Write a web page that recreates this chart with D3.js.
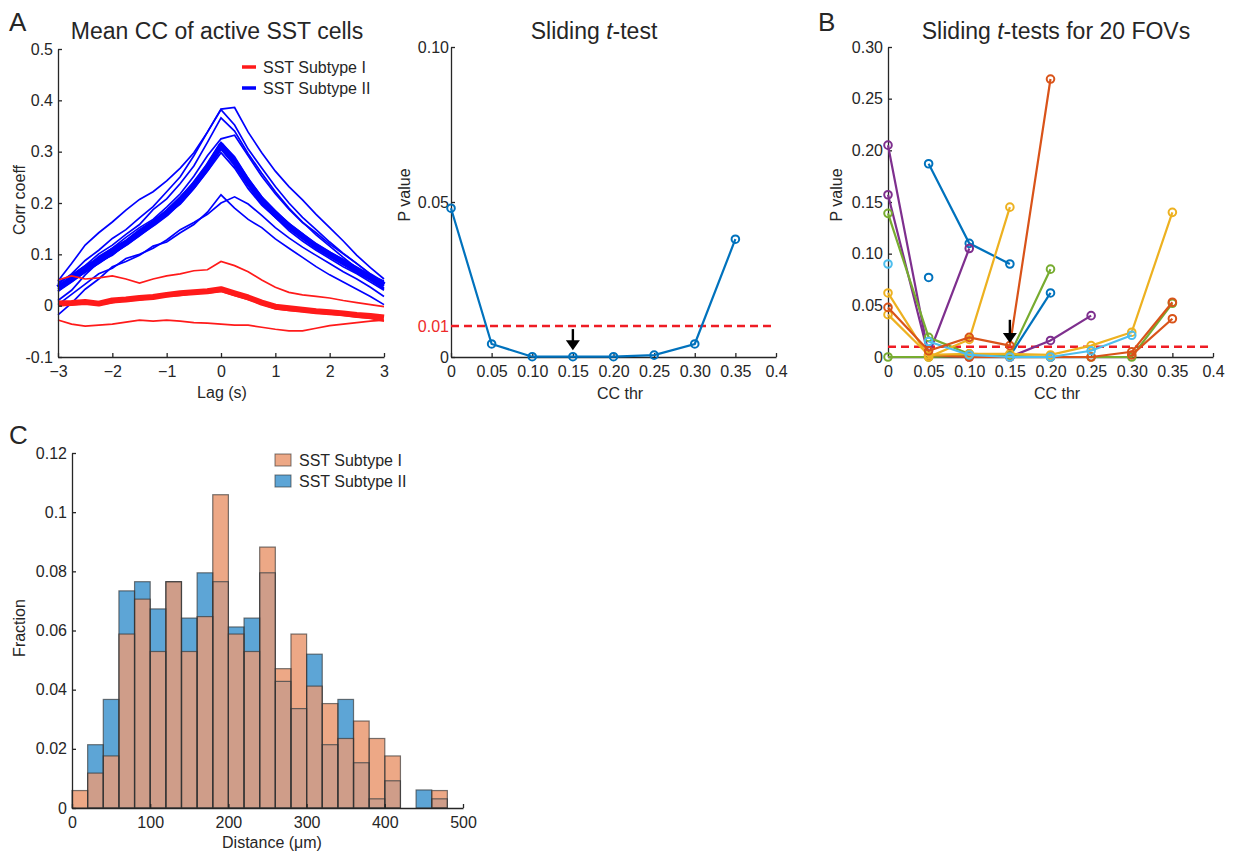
<!DOCTYPE html>
<html><head><meta charset="utf-8">
<script src="https://cdn.jsdelivr.net/npm/d3@7"></script>
<style>body{margin:0;background:#fff;} svg{display:block;}</style>
</head><body><svg id="c" width="1235" height="853"></svg>
<script>
// ---------------- DATA ----------------
// Panel A (left): cross-correlation vs lag
const lags = [-3,-2.75,-2.5,-2.25,-2,-1.75,-1.5,-1.25,-1,-0.75,-0.5,-0.25,0,0.25,0.5,0.75,1,1.25,1.5,1.75,2,2.25,2.5,2.75,3];
const subtype2Lines = [
  [0.048,0.082,0.118,0.142,0.163,0.186,0.207,0.222,0.243,0.268,0.298,0.338,0.383,0.386,0.338,0.298,0.262,0.232,0.206,0.178,0.152,0.126,0.098,0.074,0.052],
  [0.042,0.062,0.088,0.108,0.131,0.148,0.171,0.193,0.222,0.251,0.292,0.338,0.382,0.352,0.305,0.268,0.232,0.200,0.172,0.148,0.124,0.102,0.082,0.061,0.038],
  [0.032,0.058,0.078,0.101,0.118,0.139,0.158,0.187,0.208,0.238,0.272,0.318,0.366,0.340,0.296,0.258,0.222,0.190,0.163,0.138,0.116,0.094,0.073,0.054,0.034],
  [0.028,0.051,0.072,0.096,0.112,0.133,0.152,0.168,0.192,0.218,0.252,0.292,0.325,0.332,0.292,0.252,0.218,0.188,0.162,0.142,0.120,0.101,0.082,0.062,0.046],
  [0.028,0.046,0.066,0.082,0.100,0.118,0.136,0.156,0.176,0.200,0.232,0.268,0.305,0.274,0.236,0.200,0.172,0.150,0.131,0.112,0.096,0.080,0.064,0.050,0.032],
  [0.045,0.060,0.078,0.093,0.112,0.127,0.148,0.165,0.186,0.212,0.240,0.276,0.318,0.290,0.248,0.212,0.185,0.160,0.140,0.120,0.104,0.090,0.074,0.058,0.048],
  [0.010,0.030,0.060,0.085,0.098,0.120,0.138,0.162,0.178,0.198,0.228,0.262,0.298,0.268,0.228,0.196,0.172,0.146,0.126,0.108,0.092,0.076,0.062,0.046,0.030],
  [-0.018,0.005,0.032,0.052,0.076,0.086,0.098,0.116,0.124,0.142,0.158,0.182,0.216,0.190,0.168,0.152,0.130,0.112,0.094,0.076,0.060,0.046,0.032,0.018,0.002],
  [0.002,0.022,0.042,0.062,0.073,0.092,0.100,0.112,0.128,0.148,0.162,0.178,0.200,0.212,0.198,0.176,0.152,0.132,0.114,0.098,0.082,0.066,0.052,0.036,0.018]
];
const subtype2Mean = [0.035,0.052,0.070,0.088,0.105,0.122,0.142,0.160,0.180,0.205,0.235,0.270,0.312,0.280,0.240,0.205,0.178,0.155,0.135,0.116,0.100,0.085,0.070,0.055,0.040];
const subtype1Lines = [
  [0.050,0.058,0.052,0.054,0.058,0.052,0.044,0.052,0.058,0.062,0.068,0.070,0.086,0.078,0.066,0.050,0.036,0.026,0.021,0.018,0.015,0.010,0.006,0.002,-0.002],
  [0.000,0.002,0.004,0.002,0.006,0.010,0.011,0.015,0.018,0.020,0.024,0.025,0.028,0.020,0.012,0.003,-0.006,-0.009,-0.011,-0.014,-0.016,-0.019,-0.022,-0.025,-0.030],
  [-0.028,-0.036,-0.040,-0.038,-0.036,-0.032,-0.028,-0.030,-0.028,-0.030,-0.033,-0.034,-0.036,-0.038,-0.038,-0.042,-0.046,-0.049,-0.049,-0.044,-0.039,-0.036,-0.033,-0.030,-0.028]
];
const subtype1Mean = [0.004,0.005,0.007,0.004,0.010,0.012,0.015,0.017,0.021,0.024,0.026,0.028,0.032,0.024,0.016,0.006,-0.002,-0.005,-0.008,-0.011,-0.013,-0.015,-0.018,-0.020,-0.023];
const aXTicks = [-3,-2,-1,0,1,2,3];
const aYTicks = [-0.1,0,0.1,0.2,0.3,0.4,0.5];
const aYLabels = ["-0.1","0","0.1","0.2","0.3","0.4","0.5"];
const legendA = ["SST Subtype I","SST Subtype II"];

// Panel A (right): sliding t-test
const ccThr = [0,0.05,0.10,0.15,0.20,0.25,0.30,0.35];
const pValues = [0.048,0.0042,0.0001,0.0001,0.0001,0.0006,0.0042,0.038];
const pThreshold = 0.01;
const ccXTicks = [0,0.05,0.10,0.15,0.20,0.25,0.30,0.35,0.4];
const ccXLabels = ["0","0.05","0.10","0.15","0.20","0.25","0.30","0.35","0.4"];
const pYTicks = [0,0.01,0.05,0.10];
const pYLabels = ["0","0.01","0.05","0.10"];
const chosenThr = 0.15;

// Panel B: sliding t-tests for 20 FOVs (null = not computed)
const fovP = [
  [null,0.187,0.110,0.090,null,null,null,null],
  [null,0.077,null,null,null,null,null,null],
  [null,null,null,0.001,0.062,null,null,null],
  [0.157,0.001,0.000,0.000,0.016,0.040,null,null],
  [0.205,0.002,0.105,null,null,null,null,null],
  [0.139,0.019,0.003,0.002,0.085,null,null,null],
  [0.000,0.000,0.001,0.001,0.000,0.000,0.000,0.052],
  [null,0.002,0.000,0.000,0.000,0.000,0.005,0.053],
  [null,null,null,null,null,null,0.002,0.037],
  [0.041,0.002,0.003,0.003,0.002,0.011,0.024,0.140],
  [0.062,0.000,0.017,0.145,null,null,null,null],
  [0.090,null,null,null,null,null,null,null],
  [null,0.015,0.002,0.000,0.000,0.006,0.021,null],
  [0.048,0.006,0.019,0.011,0.269,null,null,null]
];
const fovColorIdx = [0,0,0,3,3,4,4,1,1,2,2,5,5,1];
const bYTicks = [0,0.05,0.10,0.15,0.20,0.25,0.30];
const bYLabels = ["0","0.05","0.10","0.15","0.20","0.25","0.30"];

// Panel C: distance histogram
const binEdges = [0,20,40,60,80,100,120,140,160,180,200,220,240,260,280,300,320,340,360,380,400,420,440,460,480];
const fracSubtype1 = [0.0059,0.0118,0.0176,0.0588,0.0706,0.0529,0.0765,0.0529,0.0647,0.1059,0.0588,0.0529,0.0882,0.0471,0.0588,0.0412,0.0353,0.0235,0.0294,0.0235,0.0176,0,0,0.0059];
const fracSubtype2 = [0,0.0214,0.0367,0.0734,0.0765,0.0673,0.0765,0.0642,0.0795,0.0765,0.0612,0.0642,0.0795,0.0428,0.0336,0.0520,0.0214,0.0367,0.0153,0.0031,0.0092,0,0.0061,0.0031];
const cXTicks = [0,100,200,300,400,500];
const cYTicks = [0,0.02,0.04,0.06,0.08,0.1,0.12];
const cYLabels = ["0","0.02","0.04","0.06","0.08","0.1","0.12"];

// ---------------- STYLE ----------------
const FONT = '"Liberation Sans", Arial, Helvetica, sans-serif';
const INK = '#262626';
const FS = 16;
const matlab = ['#0072BD','#D95319','#EDB120','#7E2F8E','#77AC30','#4DBEEE'];
const RED = '#FF1A1A', BLUE = '#0000FF';
const svg = d3.select('#c');

function styleAxis(g){
  g.selectAll('path.domain').attr('stroke',INK).attr('stroke-width',1.3);
  g.selectAll('.tick line').attr('stroke',INK).attr('stroke-width',1.3);
  g.selectAll('.tick text').attr('fill',INK).attr('font-size',FS).attr('font-family',FONT);
}
function txt(x,y,s,opt={}){
  const t = svg.append('text').attr('x',x).attr('y',y).attr('font-family',FONT)
    .attr('font-size',opt.size||FS).attr('fill',opt.fill||INK)
    .attr('text-anchor',opt.anchor||'middle');
  if(opt.rotate) t.attr('transform',`rotate(-90,${x},${y})`);
  t.text(s);
  return t;
}

// ---------------- PANEL A LEFT ----------------
const xA = d3.scaleLinear().domain([-3,3]).range([58,384]);
const yA = d3.scaleLinear().domain([-0.1,0.5]).range([357,49]);
const lineA = d3.line().x((d,i)=>xA(lags[i])).y(d=>yA(d));
const gA = svg.append('g');
subtype2Lines.forEach(l=>gA.append('path').attr('d',lineA(l)).attr('fill','none').attr('stroke',BLUE).attr('stroke-width',1.7));
gA.append('path').attr('d',lineA(subtype2Mean)).attr('fill','none').attr('stroke',BLUE).attr('stroke-width',6).attr('stroke-linejoin','round');
subtype1Lines.forEach(l=>gA.append('path').attr('d',lineA(l)).attr('fill','none').attr('stroke',RED).attr('stroke-width',1.7));
gA.append('path').attr('d',lineA(subtype1Mean)).attr('fill','none').attr('stroke',RED).attr('stroke-width',6).attr('stroke-linejoin','round');

svg.append('g').attr('transform','translate(0,357)')
  .call(d3.axisBottom(xA).tickValues(aXTicks).tickFormat(d3.format('d')).tickSizeInner(-4).tickSizeOuter(0).tickPadding(9)).call(styleAxis);
svg.append('g').attr('transform','translate(58,0)')
  .call(d3.axisLeft(yA).tickValues(aYTicks).tickFormat((d,i)=>aYLabels[i]).tickSizeInner(-4).tickSizeOuter(0).tickPadding(5)).call(styleAxis);

// legend A
[[RED,67],[BLUE,88]].forEach((c,i)=>{
  svg.append('line').attr('x1',242).attr('x2',256).attr('y1',c[1]).attr('y2',c[1]).attr('stroke',c[0]).attr('stroke-width',3.5);
  txt(263,c[1]+6,legendA[i],{anchor:'start'});
});
txt(217,39,'Mean CC of active SST cells',{size:23});
txt(222,398,'Lag (s)');
txt(25,200,'Corr coeff',{rotate:true});
txt(9,31,'A',{size:26,anchor:'start'});

// ---------------- PANEL A RIGHT ----------------
const xP = d3.scaleLinear().domain([0,0.4]).range([451,776]);
const yP = d3.scaleLinear().domain([0,0.1]).range([357,47]);
svg.append('g').attr('transform','translate(0,357)')
  .call(d3.axisBottom(xP).tickValues(ccXTicks).tickFormat((d,i)=>ccXLabels[i]).tickSizeInner(-4).tickSizeOuter(0).tickPadding(9)).call(styleAxis);
const gPy = svg.append('g').attr('transform','translate(451,0)')
  .call(d3.axisLeft(yP).tickValues(pYTicks).tickFormat((d,i)=>pYLabels[i]).tickSizeInner(-4).tickSizeOuter(0).tickPadding(2)).call(styleAxis);
gPy.selectAll('.tick').filter(d=>d===pThreshold).select('text').attr('fill','#EE2A2A');
gPy.selectAll('.tick').filter(d=>d===pThreshold).select('line').remove();

svg.append('line').attr('x1',xP(0)).attr('x2',xP(0.4)).attr('y1',yP(pThreshold)).attr('y2',yP(pThreshold))
  .attr('stroke','#EE1C24').attr('stroke-width',2.5).attr('stroke-dasharray','8,5');
const lineP = d3.line().x((d,i)=>xP(ccThr[i])).y(d=>yP(d));
svg.append('path').attr('d',lineP(pValues)).attr('fill','none').attr('stroke','#0072BD').attr('stroke-width',2.2);
svg.selectAll('.pdot').data(pValues).enter().append('circle')
  .attr('cx',(d,i)=>xP(ccThr[i])).attr('cy',d=>yP(d)).attr('r',3.8)
  .attr('fill','none').attr('stroke','#0072BD').attr('stroke-width',2);
function arrow(x,yTop,yTip){
  svg.append('line').attr('x1',x).attr('x2',x).attr('y1',yTop).attr('y2',yTip-8).attr('stroke','#000').attr('stroke-width',2.4);
  svg.append('path').attr('d',`M${x-7},${yTip-10} L${x+7},${yTip-10} L${x},${yTip} Z`).attr('fill','#000');
}
arrow(xP(chosenThr), yP(0.0090), yP(0.0022));
txt(594,39,'',{size:23}).html('Sliding <tspan font-style="italic">t</tspan>-test');
txt(620,399,'CC thr');
txt(410,195,'P value',{rotate:true});

// ---------------- PANEL B ----------------
const xB = d3.scaleLinear().domain([0,0.4]).range([888,1213]);
const yB = d3.scaleLinear().domain([0,0.3]).range([357,47]);
svg.append('g').attr('transform','translate(0,357)')
  .call(d3.axisBottom(xB).tickValues(ccXTicks).tickFormat((d,i)=>ccXLabels[i]).tickSizeInner(-4).tickSizeOuter(0).tickPadding(9)).call(styleAxis);
svg.append('g').attr('transform','translate(888,0)')
  .call(d3.axisLeft(yB).tickValues(bYTicks).tickFormat((d,i)=>bYLabels[i]).tickSizeInner(-4).tickSizeOuter(0).tickPadding(5)).call(styleAxis);
svg.append('line').attr('x1',xB(0)).attr('x2',xB(0.4)).attr('y1',yB(pThreshold)).attr('y2',yB(pThreshold))
  .attr('stroke','#EE1C24').attr('stroke-width',2.5).attr('stroke-dasharray','8,5');
const lineB = d3.line().defined(d=>d!==null).x((d,i)=>xB(ccThr[i])).y(d=>yB(d));
fovP.forEach((s,k)=>{
  const col = matlab[fovColorIdx[k]];
  svg.append('path').attr('d',lineB(s)).attr('fill','none').attr('stroke',col).attr('stroke-width',2.2);
  s.forEach((v,i)=>{ if(v!==null) svg.append('circle').attr('cx',xB(ccThr[i])).attr('cy',yB(v)).attr('r',3.8)
    .attr('fill','none').attr('stroke',col).attr('stroke-width',2); });
});
arrow(xB(chosenThr), yB(0.036), yB(0.0135));
txt(1056,39,'',{size:23}).html('Sliding <tspan font-style="italic">t</tspan>-tests for 20 FOVs');
txt(1057,399,'CC thr');
txt(842,195,'P value',{rotate:true});
txt(818,31,'B',{size:26,anchor:'start'});

// ---------------- PANEL C ----------------
const xC = d3.scaleLinear().domain([0,500]).range([72,463]);
const yC = d3.scaleLinear().domain([0,0.12]).range([808,453]);
const bins = fracSubtype1.map((f,i)=>({x0:binEdges[i],x1:binEdges[i]+20,a:f,b:fracSubtype2[i]}));
const gC = svg.append('g');
bins.forEach(d=>{
  const x = xC(d.x0), w = xC(d.x1)-xC(d.x0);
  if(d.a>0) gC.append('rect').attr('x',x).attr('y',yC(d.a)).attr('width',w).attr('height',yC(0)-yC(d.a)).attr('fill','#EDA886');
  if(d.b>0) gC.append('rect').attr('x',x).attr('y',yC(d.b)).attr('width',w).attr('height',yC(0)-yC(d.b)).attr('fill','#5DA5D6');
  const m = Math.min(d.a,d.b);
  if(m>0) gC.append('rect').attr('x',x).attr('y',yC(m)).attr('width',w).attr('height',yC(0)-yC(m)).attr('fill','#CF9D89');
});
bins.forEach(d=>{
  const x = xC(d.x0), w = xC(d.x1)-xC(d.x0);
  [d.a,d.b].forEach(v=>{ if(v>0) gC.append('rect').attr('x',x).attr('y',yC(v)).attr('width',w).attr('height',yC(0)-yC(v))
    .attr('fill','none').attr('stroke','#333').attr('stroke-opacity',0.65).attr('stroke-width',1.2); });
});
svg.append('g').attr('transform','translate(0,808)')
  .call(d3.axisBottom(xC).tickValues(cXTicks).tickFormat(d3.format('d')).tickSizeInner(-4).tickSizeOuter(0).tickPadding(9)).call(styleAxis);
svg.append('g').attr('transform','translate(72,0)')
  .call(d3.axisLeft(yC).tickValues(cYTicks).tickFormat((d,i)=>cYLabels[i]).tickSizeInner(-4).tickSizeOuter(0).tickPadding(5)).call(styleAxis);
[['#EDA886',454],['#5DA5D6',475]].forEach((c,i)=>{
  svg.append('rect').attr('x',275).attr('y',c[1]).attr('width',16).attr('height',12).attr('fill',c[0]).attr('stroke','#333').attr('stroke-opacity',0.65);
  txt(299,c[1]+12,legendA[i],{anchor:'start'});
});
txt(272,848,'Distance (\u03bcm)');
txt(25,628,'Fraction',{rotate:true});
txt(9,444,'C',{size:26,anchor:'start'});
</script></body></html>
